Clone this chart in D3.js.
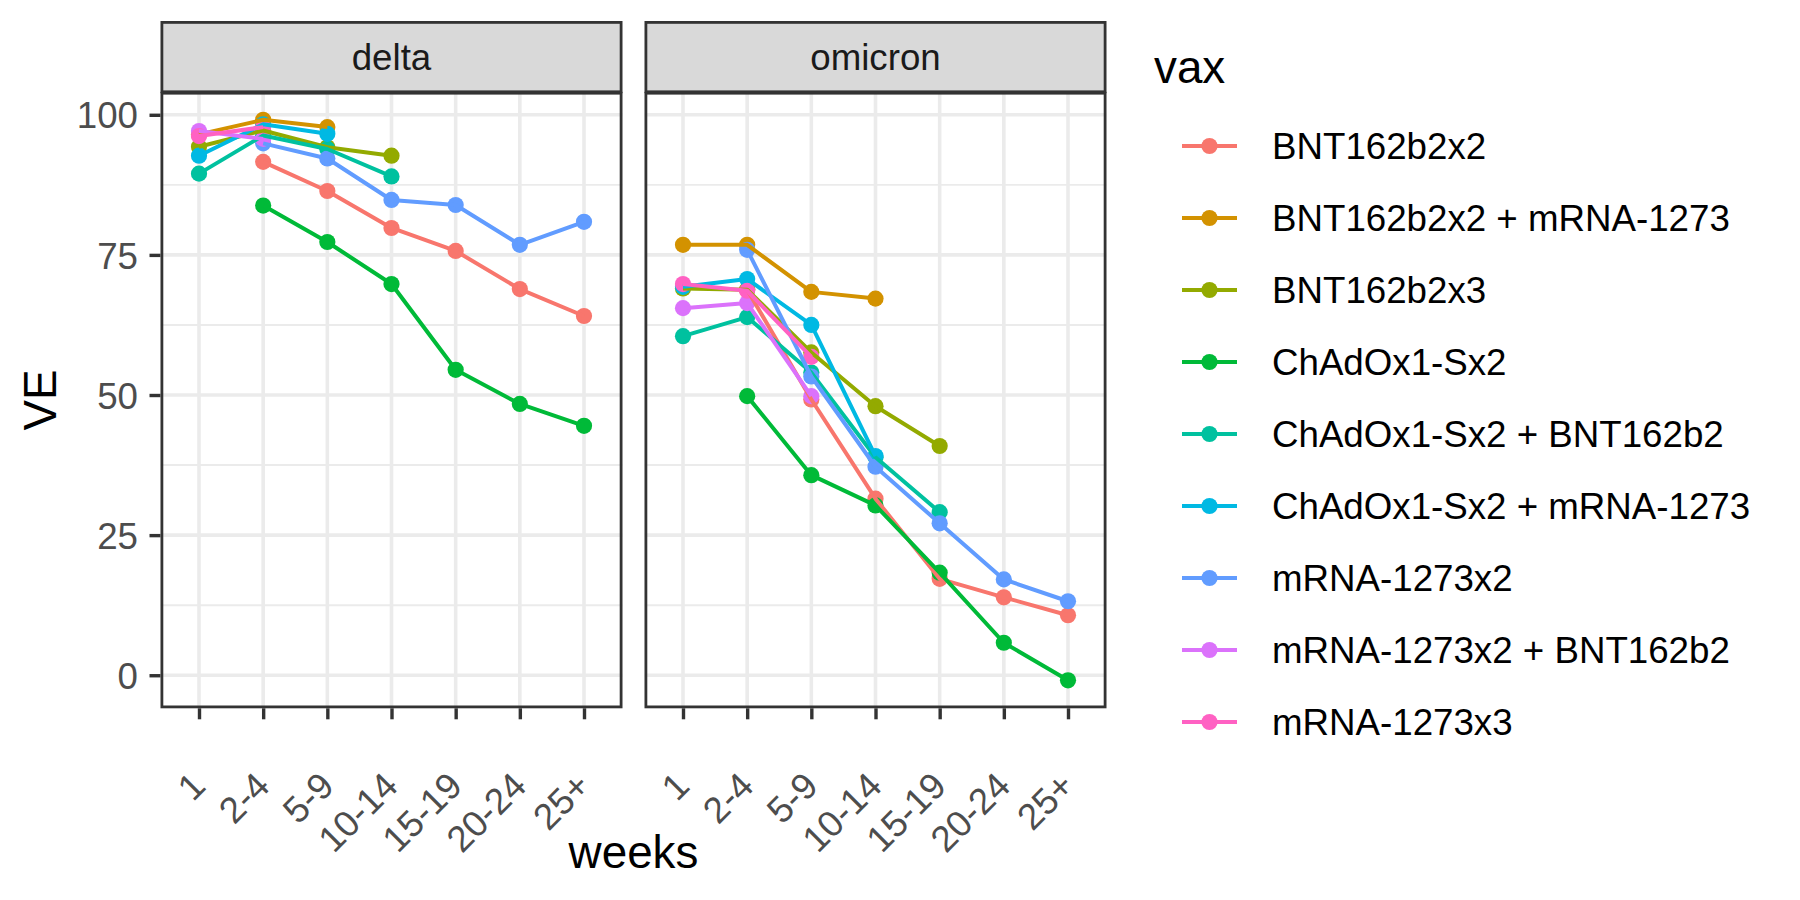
<!DOCTYPE html>
<html>
<head>
<meta charset="utf-8">
<script src="https://cdn.jsdelivr.net/npm/d3@7"></script>
<style>
  html, body { margin: 0; padding: 0; background: #ffffff; }
  svg { display: block; }
</style>
</head>
<body>
<script>
// ---------------- data ----------------
const weeks = ["1", "2-4", "5-9", "10-14", "15-19", "20-24", "25+"];
const variants = ["delta", "omicron"];
const vaxNames = [
  "BNT162b2x2",
  "BNT162b2x2 + mRNA-1273",
  "BNT162b2x3",
  "ChAdOx1-Sx2",
  "ChAdOx1-Sx2 + BNT162b2",
  "ChAdOx1-Sx2 + mRNA-1273",
  "mRNA-1273x2",
  "mRNA-1273x2 + BNT162b2",
  "mRNA-1273x3"
];
const vaxColors = ["#F8766D", "#D39200", "#93AA00", "#00BA38", "#00C19F",
                   "#00B9E3", "#619CFF", "#DB72FB", "#FF61C3"];
const yTickValues = [0, 25, 50, 75, 100];

// VE by week (null = not reported), one row per vax, order as vaxNames
const deltaValues = [
  [null, 91.6, 86.4, 79.8, 75.7, 68.9, 64.1],
  [96.5, 99.1, 97.8, null, null, null, null],
  [94.3, 97.2, 94.2, 92.7, null, null, null],
  [null, 83.8, 77.3, 69.8, 54.5, 48.4, 44.5],
  [89.5, 96.3, 93.9, 89.0, null, null, null],
  [92.7, 98.3, 96.6, null, null, null, null],
  [null, 94.9, 92.2, 84.8, 83.9, 76.8, 80.9],
  [97.1, 95.7, null, null, null, null, null],
  [96.2, 97.8, null, null, null, null, null]
];
const omicronValues = [
  [null, 68.8, 49.2, 31.5, 17.2, 13.9, 10.7],
  [76.8, 76.8, 68.4, 67.2, null, null, null],
  [69.0, 68.8, 57.6, 48.0, 40.9, null, null],
  [null, 49.8, 35.7, 30.3, 18.3, 5.8, -0.9],
  [60.5, 63.9, 54.0, 38.9, 29.1, null, null],
  [69.3, 70.7, 62.5, 39.1, null, null, null],
  [null, 75.9, 53.3, 37.2, 27.1, 17.1, 13.2],
  [65.5, 66.4, 49.8, null, null, null, null],
  [69.8, 68.6, 56.8, null, null, null, null]
];

// ---------------- layout ----------------
const W = 1800, H = 900;
const FONT = "'Liberation Sans', Arial, Helvetica, sans-serif";
const plotTop = 91.8, plotBot = 708.3, stripTop = 21;
const panelX = [[160.5, 622.5], [644.5, 1106.5]];
const borderCol = "#333333";
const borderW = 2.8;
const ptR = 8.1;

const svg = d3.select("body").append("svg")
  .attr("width", W).attr("height", H)
  .style("background", "#ffffff");

svg.append("rect").attr("width", W).attr("height", H).attr("fill", "#ffffff");

const allVals = deltaValues.concat(omicronValues).flat().filter(v => v != null);
const [mn, mx] = d3.extent(allVals);
const pad = (mx - mn) * 0.05;
const y = d3.scaleLinear().domain([mn - pad, mx + pad]).range([plotBot, plotTop]);

const minorVals = [];
for (let i = 0; i < yTickValues.length - 1; i++) minorVals.push((yTickValues[i] + yTickValues[i + 1]) / 2);
minorVals.push(yTickValues[0] - 12.5);
const minorIn = minorVals.filter(v => v >= y.domain()[0] && v <= y.domain()[1]);

const panelValues = [deltaValues, omicronValues];

variants.forEach((vname, p) => {
  const [x0, x1] = panelX[p];
  const x = d3.scalePoint().domain(weeks).range([x0, x1]).padding(0.6);
  const g = svg.append("g");

  const clipId = "clip" + p;
  svg.append("clipPath").attr("id", clipId)
    .append("rect").attr("x", x0).attr("y", plotTop).attr("width", x1 - x0).attr("height", plotBot - plotTop);

  const inner = g.append("g").attr("clip-path", `url(#${clipId})`);
  inner.append("rect").attr("x", x0).attr("y", plotTop).attr("width", x1 - x0).attr("height", plotBot - plotTop)
    .attr("fill", "#ffffff");

  // minor grid
  inner.selectAll(".minor").data(minorIn).join("line")
    .attr("x1", x0).attr("x2", x1)
    .attr("y1", d => y(d)).attr("y2", d => y(d))
    .attr("stroke", "#EBEBEB").attr("stroke-width", 1.9);
  // major grid
  inner.selectAll(".majorY").data(yTickValues).join("line")
    .attr("x1", x0).attr("x2", x1)
    .attr("y1", d => y(d)).attr("y2", d => y(d))
    .attr("stroke", "#EBEBEB").attr("stroke-width", 3.6);
  inner.selectAll(".majorX").data(weeks).join("line")
    .attr("x1", d => x(d)).attr("x2", d => x(d))
    .attr("y1", plotTop).attr("y2", plotBot)
    .attr("stroke", "#EBEBEB").attr("stroke-width", 3.6);

  const vals = panelValues[p];
  const series = vaxNames.map((name, i) => ({
    name, color: vaxColors[i],
    pts: weeks.map((w, j) => ({ w, v: vals[i][j] })).filter(d => d.v != null)
  }));

  // points (drawn first)
  series.forEach(s => {
    inner.append("g").selectAll("circle").data(s.pts).join("circle")
      .attr("cx", d => x(d.w)).attr("cy", d => y(d.v)).attr("r", ptR)
      .attr("fill", s.color);
  });
  // lines (on top)
  const line = d3.line().x(d => x(d.w)).y(d => y(d.v));
  series.forEach(s => {
    inner.append("path").datum(s.pts).attr("d", line)
      .attr("fill", "none").attr("stroke", s.color).attr("stroke-width", 4)
      .attr("stroke-linejoin", "round");
  });

  // panel border
  g.append("rect")
    .attr("x", x0 + borderW / 2).attr("y", plotTop + borderW / 2)
    .attr("width", x1 - x0 - borderW).attr("height", plotBot - plotTop - borderW)
    .attr("fill", "none").attr("stroke", borderCol).attr("stroke-width", borderW);

  // strip
  g.append("rect")
    .attr("x", x0 + borderW / 2).attr("y", stripTop + borderW / 2)
    .attr("width", x1 - x0 - borderW).attr("height", plotTop - stripTop - borderW / 2)
    .attr("fill", "#D9D9D9").attr("stroke", borderCol).attr("stroke-width", borderW);
  g.append("text")
    .attr("x", (x0 + x1) / 2).attr("y", (stripTop + plotTop) / 2)
    .attr("dy", "0.36em")
    .attr("text-anchor", "middle")
    .attr("font-family", FONT).attr("font-size", 36.7).attr("fill", "#1A1A1A")
    .text(vname);

  // x axis
  const xAxis = d3.axisBottom(x).tickSize(11).tickPadding(4);
  const xg = g.append("g").attr("transform", `translate(0,${plotBot})`).call(xAxis);
  xg.select(".domain").remove();
  xg.selectAll(".tick line").attr("stroke", borderCol).attr("stroke-width", 3.4);
  xg.selectAll(".tick text")
    .attr("x", null).attr("y", null).attr("dy", null)
    .attr("transform", `translate(8,${788 - plotBot}) rotate(-45)`)
    .attr("text-anchor", "end")
    .attr("font-family", FONT).attr("font-size", 36.7).attr("fill", "#4D4D4D");

  // y axis on first panel
  if (p === 0) {
    const yAxis = d3.axisLeft(y).tickValues(yTickValues).tickSize(11).tickPadding(11.5);
    const yg = g.append("g").attr("transform", `translate(${x0},0)`).call(yAxis);
    yg.select(".domain").remove();
    yg.selectAll(".tick line").attr("stroke", borderCol).attr("stroke-width", 3.4);
    yg.selectAll(".tick text")
      .attr("dy", "0.36em")
      .attr("font-family", FONT).attr("font-size", 36.7).attr("fill", "#4D4D4D");
  }
});

// axis titles
svg.append("text")
  .attr("x", (panelX[0][0] + panelX[1][1]) / 2).attr("y", 868)
  .attr("text-anchor", "middle")
  .attr("font-family", FONT).attr("font-size", 45.8).attr("fill", "#000000")
  .text("weeks");
svg.append("text")
  .attr("transform", `translate(56,${(plotTop + plotBot) / 2}) rotate(-90)`)
  .attr("text-anchor", "middle")
  .attr("font-family", FONT).attr("font-size", 45.8).attr("fill", "#000000")
  .text("VE");

// legend
const leg = svg.append("g");
leg.append("text")
  .attr("x", 1154).attr("y", 83)
  .attr("font-family", FONT).attr("font-size", 45.8).attr("fill", "#000000")
  .text("vax");
vaxNames.forEach((name, i) => {
  const cy = 146 + 72 * i;
  leg.append("line")
    .attr("x1", 1182).attr("x2", 1237).attr("y1", cy).attr("y2", cy)
    .attr("stroke", vaxColors[i]).attr("stroke-width", 4);
  leg.append("circle").attr("cx", 1209.5).attr("cy", cy).attr("r", ptR).attr("fill", vaxColors[i]);
  leg.append("text")
    .attr("x", 1272).attr("y", cy).attr("dy", "0.36em")
    .attr("font-family", FONT).attr("font-size", 36.7).attr("fill", "#000000")
    .text(name);
});
</script>
</body>
</html>
